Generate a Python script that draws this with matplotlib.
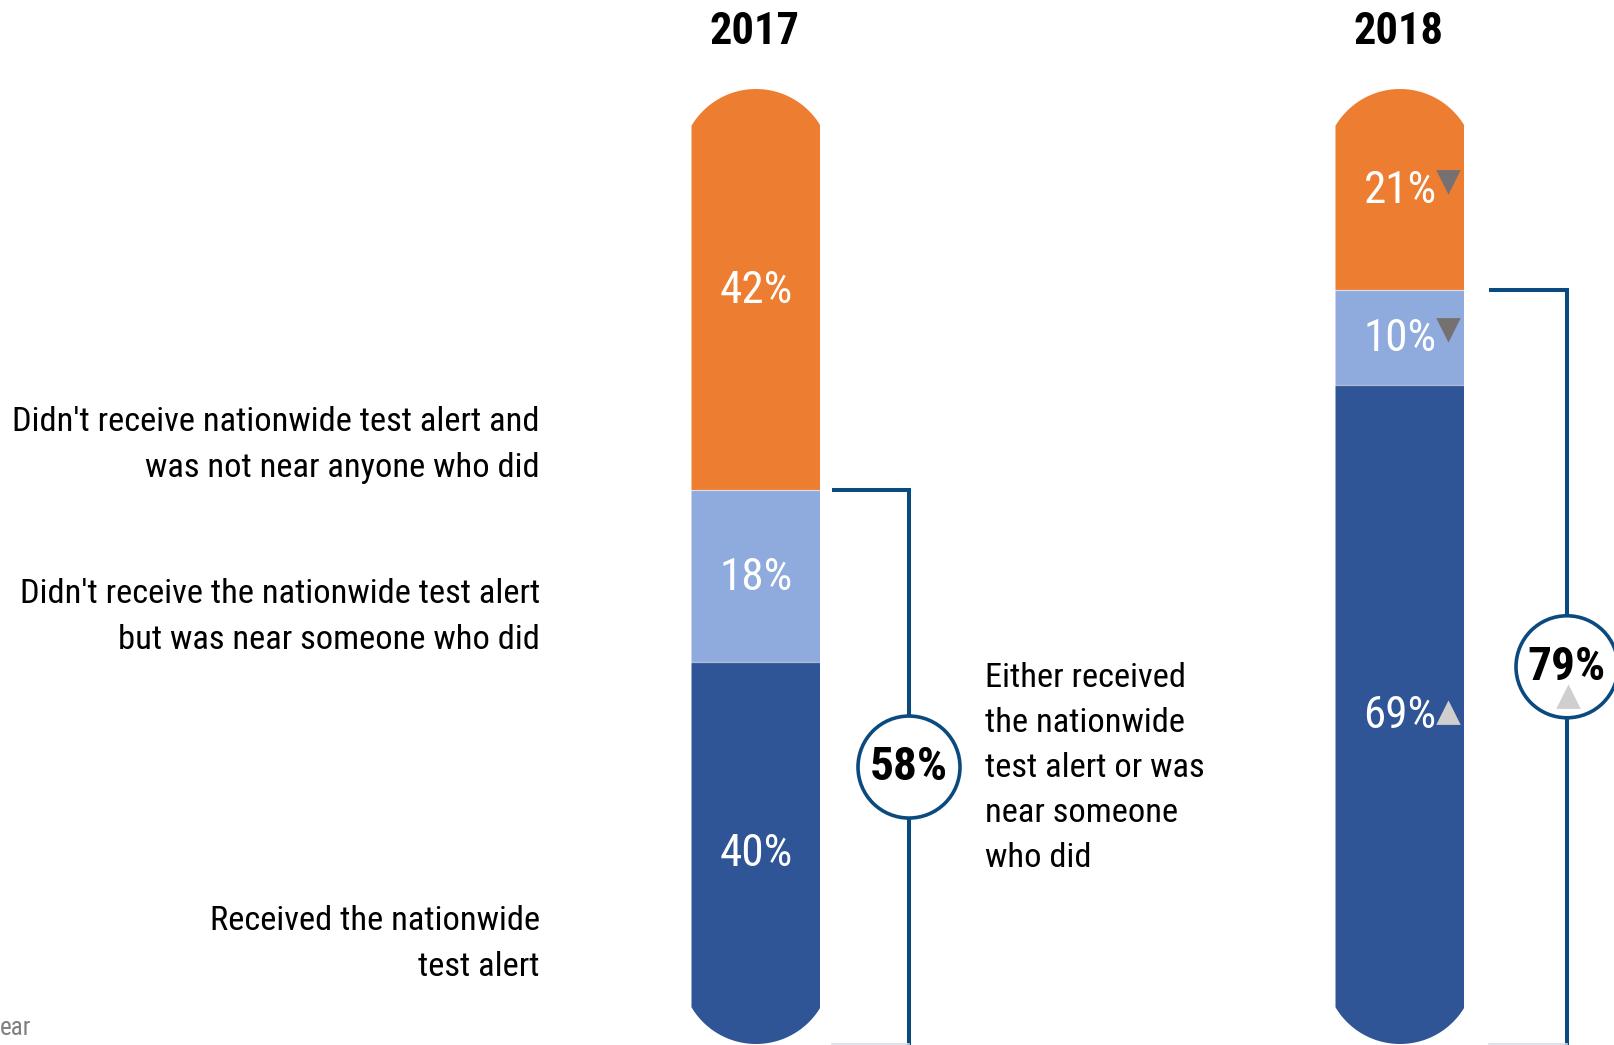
import os
import numpy as np
import matplotlib.pyplot as plt
from matplotlib import font_manager
from matplotlib.font_manager import FontProperties
from matplotlib.patches import Ellipse, PathPatch
from matplotlib.path import Path

# Share of people by alert status, per year (%)
years = ['2017', '2018']
received = [40, 69]
near_someone = [18, 10]
not_received = [42, 21]
# change vs previous year: 0 none, -1 down, +1 up
change_not_received = [0, -1]
change_near = [0, -1]
change_received = [0, 1]
change_total = [0, 1]

labels_left = [
    "Didn't receive nationwide test alert and\nwas not near anyone who did",
    "Didn't receive the nationwide test alert\nbut was near someone who did",
    "Received the nationwide\ntest alert",
]
label_either = "Either received\nthe nationwide\ntest alert or was\nnear someone\nwho did"

c_orange = '#ED7D31'
c_light = '#8FAADC'
c_dark = '#2F5597'
c_navy = '#0B4A7E'
c_down = '#767171'
c_up = '#D0CECE'

# look for a narrow sans face
font_files = font_manager.findSystemFonts()


def find_font(prefixes):
    for pre in prefixes:
        for p in font_files:
            if os.path.basename(p).lower().startswith(pre.lower()):
                return p
    return None


REG = find_font(['LiberationSansNarrow-Regular', 'RobotoCondensed-Regular',
                 'OpenSans_Condensed-Regular', 'OpenSansCondensed-Regular',
                 'DejaVuSansCondensed.ttf'])
BOLD = find_font(['LiberationSansNarrow-Bold.', 'RobotoCondensed-Bold.',
                  'OpenSans_Condensed-Bold.', 'OpenSansCondensed-Bold.',
                  'DejaVuSansCondensed-Bold.'])


def fp(size, bold=False):
    path = BOLD if bold else REG
    if path:
        return FontProperties(fname=path, size=size)
    return FontProperties(family='Liberation Sans', size=size * 0.85,
                          weight='bold' if bold else 'normal')


W, H = 1615, 1045
PPU = 9.55             # pixels per percentage point
Y0 = 1044              # pixel row (from top) of the 0% baseline

fig = plt.figure(figsize=(W / 100, H / 100), dpi=100)
ax = fig.add_axes([0, 0, 1, 1])
ax.set_xlim(0, W)
ax.set_ylim((Y0 - H) / PPU, Y0 / PPU)
ax.axis('off')


def fy(py):
    # figure fraction for a pixel row counted from the top
    return 1 - py / H


bar_x = [756, 1400]
bar_w = 129
cap_r = 75


def pill_path(cx):
    half = bar_w / 2
    t0 = np.arccos(half / cap_r)
    top_c = 100 - cap_r / PPU
    bot_c = cap_r / PPU
    t_top = np.linspace(t0, np.pi - t0, 60)
    t_bot = np.linspace(np.pi + t0, 2 * np.pi - t0, 60)
    xs = np.concatenate([cx + cap_r * np.cos(t_top), cx + cap_r * np.cos(t_bot)])
    ys = np.concatenate([top_c + cap_r * np.sin(t_top) / PPU,
                         bot_c + cap_r * np.sin(t_bot) / PPU])
    verts = np.column_stack([xs, ys])
    verts = np.vstack([verts, verts[:1]])
    codes = [Path.MOVETO] + [Path.LINETO] * (len(verts) - 2) + [Path.CLOSEPOLY]
    return Path(verts, codes)


for i, cx in enumerate(bar_x):
    clip = PathPatch(pill_path(cx), transform=ax.transData, facecolor='none', edgecolor='none')
    ax.add_patch(clip)
    segs = [(received[i], 0, c_dark),
            (near_someone[i], received[i], c_light),
            (not_received[i], received[i] + near_someone[i], c_orange)]
    for val, bot, col in segs:
        b = ax.bar(cx, val, bottom=bot, width=bar_w, color=col, linewidth=0)
        for r in b:
            r.set_clip_path(clip)
    # thin separators between segments
    for yb in (received[i], received[i] + near_someone[i]):
        ax.plot([cx - bar_w / 2, cx + bar_w / 2], [yb, yb], color='white', lw=0.9, alpha=0.6)

    # segment values
    mids = [received[i] / 2,
            received[i] + near_someone[i] / 2,
            received[i] + near_someone[i] + not_received[i] / 2]
    vals = [received[i], near_someone[i], not_received[i]]
    chg = [change_received[i], change_near[i], change_not_received[i]]
    for m, v, c in zip(mids, vals, chg):
        ax.text(cx, m - 1.5 / PPU, f'{v}%', color='white', fontproperties=fp(32.5),
                ha='center', va='center')
        if c < 0:
            ax.plot(cx + 48, m + 8 / PPU, marker='v', ms=15, color=c_down,
                    mec=c_down, mew=2, solid_joinstyle='round')
        elif c > 0:
            ax.plot(cx + 48, m + 2 / PPU, marker='^', ms=15, color=c_up,
                    mec=c_up, mew=2, solid_joinstyle='round')

    fig.text(cx / W - 0.001, fy(32), years[i], fontproperties=fp(32, bold=True),
             ha='center', va='center')

# brackets for "received or near someone"
bracket_x0 = [832, 1489]
bracket_xv = [909, 1567]
circle_r = 51
for i in range(2):
    total = received[i] + near_someone[i]
    x0, xv = bracket_x0[i], bracket_xv[i]
    ax.plot([x0, xv, xv], [total, total, -5], color=c_navy, lw=2.9,
            solid_joinstyle='miter', solid_capstyle='butt')
    ax.plot([x0, xv], [0, 0], color='#D6DEE8', lw=1.2)
    mid = total / 2
    ax.add_patch(Ellipse((xv, mid), 2 * circle_r, 2 * circle_r / PPU,
                         facecolor='white', edgecolor=c_navy, lw=2.6, zorder=3))
    ax.text(xv, mid, f'{total}%', fontproperties=fp(34, bold=True), ha='center',
            va='center', zorder=4)
    if change_total[i] > 0:
        ax.plot(xv + 1, mid - 30 / PPU, marker='^', ms=15, color=c_up, mec=c_up,
                mew=2, zorder=5)

# category labels
for txt, py in zip(labels_left, [445, 617, 944]):
    fig.text(540 / W, fy(py), txt, fontproperties=fp(24.8), ha='right', va='center',
             linespacing=1.53)
fig.text(985 / W, fy(768), label_either, fontproperties=fp(24.8), ha='left',
         va='center', linespacing=1.515)

fig.text(0, fy(1028), 'ear', fontproperties=fp(18), color='#7F7F7F', ha='left',
         va='center')

fig.savefig('out.png', dpi=100)
